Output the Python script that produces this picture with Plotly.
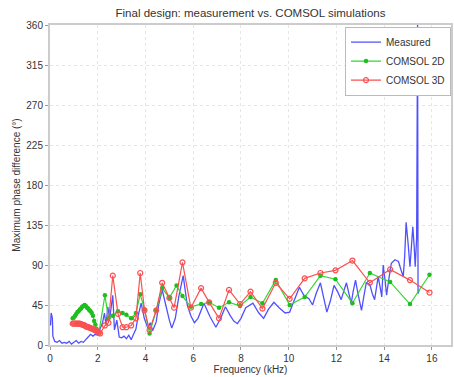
import plotly.graph_objects as go

# Measured (blue)
meas_f = [0.02, 0.05, 0.1, 0.12, 0.2, 0.3, 0.4, 0.5, 0.6, 0.7, 0.8, 0.9, 1.0, 1.1, 1.2, 1.3, 1.4, 1.5,
          1.6, 1.7, 1.8, 1.9, 2.0, 2.08, 2.2, 2.28, 2.35, 2.42, 2.5, 2.63, 2.7, 2.8, 2.9, 3.0, 3.1, 3.2,
          3.3, 3.4, 3.5, 3.6, 3.7, 3.82, 3.95, 4.1, 4.2, 4.3, 4.45, 4.55, 4.7, 4.85, 5.0, 5.1, 5.25,
          5.4, 5.58, 5.75, 5.9, 6.05, 6.2, 6.45, 6.7, 6.95, 7.15, 7.35, 7.55, 7.7, 7.85, 8.0, 8.2,
          8.5, 8.75, 8.95, 9.15, 9.38, 9.6, 9.85, 10.04, 10.2, 10.45, 10.65, 10.85, 11.0, 11.15,
          11.33, 11.45, 11.6, 11.75, 11.9, 12.05, 12.2, 12.3, 12.42, 12.52, 12.62, 12.7, 12.8, 12.9,
          13.05, 13.15, 13.25, 13.4, 13.5, 13.6, 13.68, 13.75, 13.85, 13.9, 13.96, 14.05, 14.1, 14.2,
          14.3, 14.45, 14.6, 14.7, 14.8, 14.86, 14.92, 15.0, 15.08, 15.14, 15.2, 15.26, 15.3, 15.36,
          15.4, 15.42, 15.47]
meas_v = [22, 36, 30, 10, 4, 3, 5, 2, 3, 2, 4, 1, 3, 5, 2, 4, 3, 6,
          9, 12, 10, 12, 11, 17, 25, 36, 22, 43, 30, 56, 17, 28, 9, 8, 10, 7,
          11, 6, 12, 18, 34, 47, 30, 19, 25, 16, 26, 45, 62, 45, 28, 19, 30,
          55, 78, 45, 33, 25, 30, 47, 32, 20, 30, 43, 33, 27, 24, 30, 42,
          47, 36, 30, 40, 48, 42, 36, 37, 48, 65, 55, 52, 45, 58,
          70, 55, 37, 50, 67, 60, 51, 60, 70, 58, 47, 60, 73, 58,
          39, 55, 70, 68, 58, 51, 65, 77, 62, 54, 90, 70, 56, 75,
          92, 96, 94, 85, 77, 100, 138, 115, 88, 110, 133, 110, 88, 120,
          360, 58, 62]

# COMSOL 2D (green)
sim2d_f = [0.95, 1.0, 1.05, 1.1, 1.15, 1.2, 1.25, 1.3, 1.35, 1.4, 1.45, 1.5, 1.55, 1.6, 1.65,
           1.7, 1.75, 1.8, 1.85, 1.9, 1.95, 2.0, 2.05,
           2.3, 2.45, 2.63, 2.85, 3.04, 3.2, 3.4, 3.6, 3.78, 3.96, 4.17, 4.45, 4.7, 5.0, 5.3,
           5.55, 5.9, 6.33, 6.67, 7.08, 7.5, 7.96, 8.4, 8.9, 9.46, 10.04, 10.67, 11.33, 11.96,
           12.67, 13.4, 14.25, 15.08, 15.9]
sim2d_v = [30, 31, 33, 35, 37, 38, 40, 41, 43, 44, 45, 44, 42, 41, 39,
           38, 36, 33, 27, 23, 18, 15, 14,
           56, 30, 33, 38, 36, 34, 30, 36, 57, 40, 13, 39, 64, 53, 67,
           55, 43, 46, 48, 42, 48, 44, 54, 47, 73, 45, 54, 78, 74,
           47, 81, 71, 46, 79]

# COMSOL 3D (red)
sim3d_f = [0.95, 1.0, 1.05, 1.1, 1.15, 1.2, 1.25, 1.3, 1.35, 1.4, 1.45, 1.5, 1.55, 1.6, 1.65,
           1.7, 1.75, 1.8, 1.85, 1.9, 1.95, 2.0, 2.05, 2.1,
           2.3, 2.45, 2.63, 2.85, 3.04, 3.2, 3.4, 3.6, 3.78, 3.96, 4.17, 4.45, 4.7, 5.0, 5.2,
           5.55, 5.9, 6.33, 6.67, 7.08, 7.5, 7.96, 8.4, 8.9, 9.46, 10.04, 10.67, 11.33, 11.96,
           12.67, 13.4, 14.25, 15.08, 15.9]
sim3d_v = [24, 24, 24, 24, 24, 24, 24, 23.5, 23, 22.5, 22, 21, 20.5, 20, 19.5,
           19, 18.5, 18, 17, 16.5, 16, 15, 14, 13,
           22, 25, 78, 35, 20, 20, 22, 30, 81, 39, 17, 39, 70, 53, 42,
           93, 42, 64, 48, 30, 62, 46, 60, 41, 70, 52, 75, 81, 84,
           95, 70, 85, 73, 59]

x_ticks = [0, 2, 4, 6, 8, 10, 12, 14, 16]
y_ticks = [0, 45, 90, 135, 180, 225, 270, 315, 360]

fig = go.Figure()
fig.add_trace(go.Scatter(x=meas_f, y=meas_v, mode="lines", name="Measured",
                         line=dict(color="rgb(80,80,255)", width=1.3, simplify=False)))
fig.add_trace(go.Scatter(x=sim2d_f, y=sim2d_v, mode="lines+markers", name="COMSOL 2D",
                         line=dict(color="rgb(50,215,50)", width=1.2, simplify=False),
                         marker=dict(symbol="circle", size=4.5, color="rgb(30,190,30)")))
fig.add_trace(go.Scatter(x=sim3d_f, y=sim3d_v, mode="lines+markers", name="COMSOL 3D",
                         line=dict(color="rgb(250,80,80)", width=1.2, simplify=False),
                         marker=dict(symbol="circle-open", size=5, color="rgb(250,80,80)",
                                     line=dict(width=1.2))))

axis_common = dict(showline=True, linecolor="#cccccc", linewidth=2, mirror=True,
                   ticks="outside", ticklen=3, tickcolor="#999", showgrid=True,
                   gridcolor="#e6e6e6", griddash="dot", gridwidth=1, zeroline=False,
                   tickfont=dict(size=10, color="#333"))

fig.update_xaxes(range=[0, 16.8], tickvals=x_ticks, title=dict(text="Frequency (kHz)",
                 font=dict(size=10, color="#333"), standoff=2), **axis_common)
fig.update_yaxes(range=[0, 360], tickvals=y_ticks, title=dict(text="Maximum phase difference (°)",
                 font=dict(size=10, color="#333"), standoff=4), **axis_common)

fig.update_layout(
    width=454, height=377,
    margin=dict(l=50, r=1, t=25, b=32),
    paper_bgcolor="white", plot_bgcolor="white",
    font=dict(family="Liberation Sans, Arial, sans-serif", size=10, color="#333"),
    title=dict(text="Final design: measurement vs. COMSOL simulations", xref="paper", x=0.5,
               xanchor="center", y=0.975, yanchor="top", font=dict(size=11.5, color="#333")),
    legend=dict(x=1, y=0.995, xanchor="right", yanchor="top", bgcolor="white",
                bordercolor="#bbb", borderwidth=1, font=dict(size=10, color="#333"),
                tracegroupgap=0, itemwidth=30),
    showlegend=True,
)

fig.write_html("out.html")
